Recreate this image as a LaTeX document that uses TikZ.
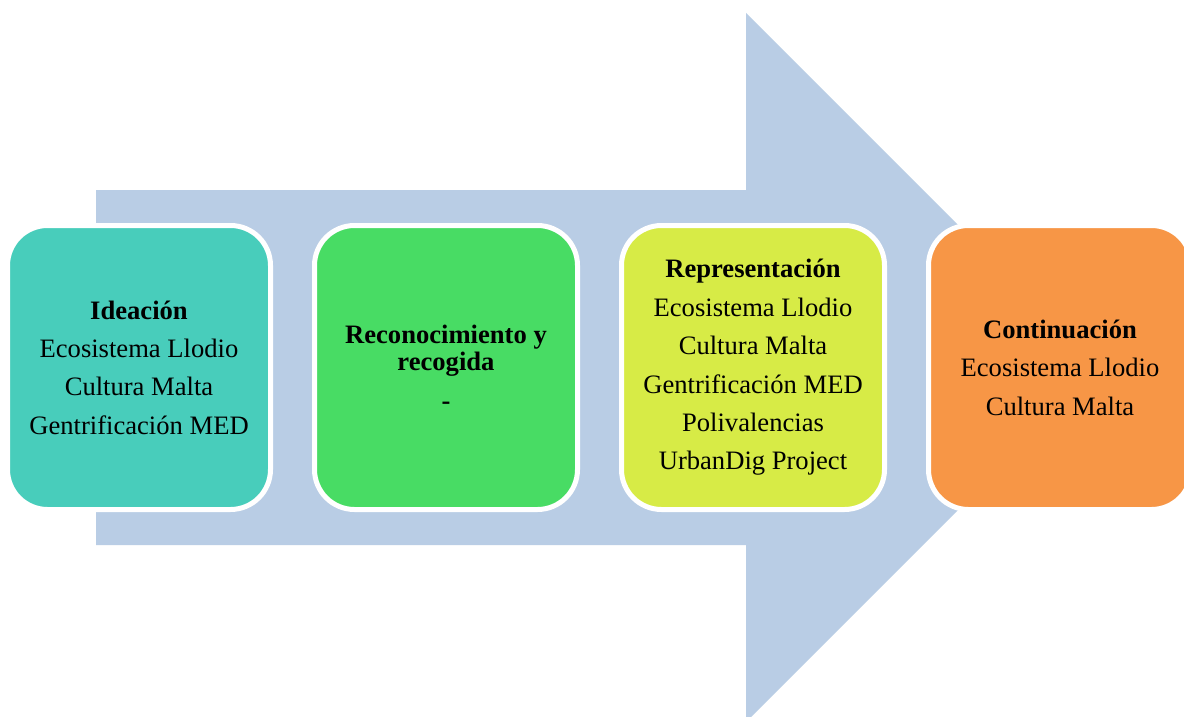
\documentclass[tikz,border=0pt]{standalone}
\usepackage{fontspec}
\setmainfont{Liberation Serif}
\definecolor{arrowblue}{RGB}{185,205,229}
\definecolor{cteal}{RGB}{72,205,187}
\definecolor{cgreen}{RGB}{72,220,100}
\definecolor{cyellow}{RGB}{215,235,70}
\definecolor{corange}{RGB}{247,150,70}
\tikzset{
  stagebox/.style={draw=white, line width=5pt, rounded corners=40pt,
    minimum width=263pt, minimum height=284pt, align=center,
    font=\fontsize{26.6}{38.4}\selectfont, text=black, inner sep=0pt},
  bigarrow/.style={fill=arrowblue, draw=none}
}
\begin{document}
\begin{tikzpicture}[x=1pt,y=-1pt]
\useasboundingbox (0,0) rectangle (1184,717);
\clip (0,0) rectangle (1184,717);
\fill[white] (0,0) rectangle (1184,717);
\coordinate (tip) at (1100.5,367.5);
\fill[bigarrow] (96,190) -- (746,190) -- (746,13) -- (tip) -- (746,722) -- (746,545) -- (96,545) -- cycle;
\node[stagebox, fill=cteal] (ideacion) at (139,367.5)
  {\textbf{Ideación}\\Ecosistema Llodio\\Cultura Malta\\Gentrificación MED};
\node[stagebox, fill=cgreen] (reconocimiento) at (446,367.5)
  {\textbf{Reconocimiento y}\\[-11.4pt]\textbf{recogida}\\[0.6pt]\textbf{-}};
\node[stagebox, fill=cyellow] (representacion) at (753,367.5)
  {\textbf{Representación}\\Ecosistema Llodio\\Cultura Malta\\Gentrificación MED\\Polivalencias\\UrbanDig Project};
\node[stagebox, fill=corange] (continuacion) at (1060,367.5)
  {\textbf{Continuación}\\Ecosistema Llodio\\Cultura Malta};
\end{tikzpicture}
\end{document}
